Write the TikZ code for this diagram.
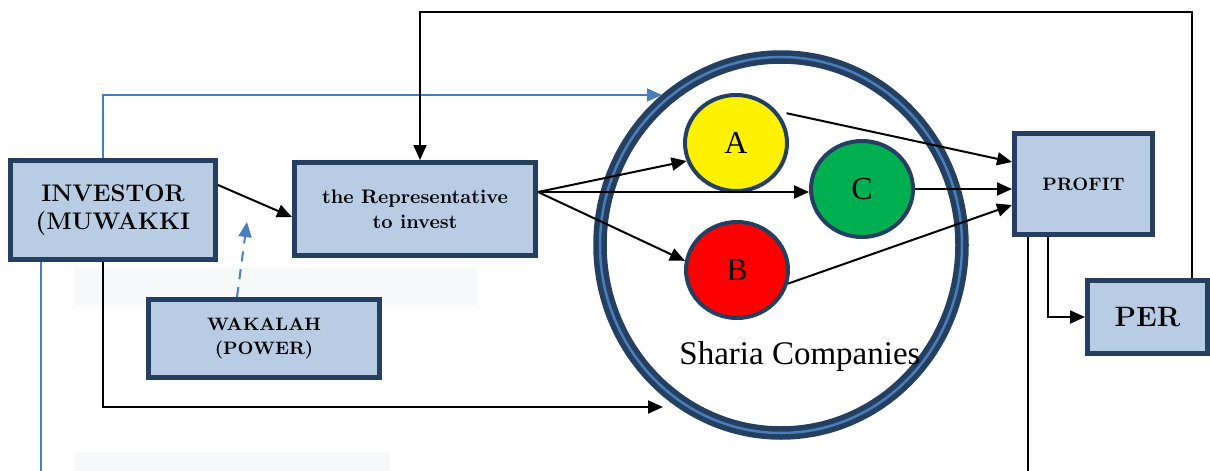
\documentclass[tikz,border=0pt]{standalone}
\usepackage{fontspec}
\newfontfamily\timesfont{Liberation Serif}
\usetikzlibrary{arrows.meta,shapes.geometric}
\definecolor{marine}{HTML}{243F60}
\definecolor{fondboite}{HTML}{B8CCE4}
\definecolor{bleutrait}{HTML}{4A7EBB}
\definecolor{grisclair}{HTML}{F7F8FA}
\definecolor{vert}{HTML}{00B050}
\tikzset{
  boite/.style={draw=marine, line width=2.5pt, fill=fondboite, inner sep=0pt, align=center},
  rond/.style={ellipse, draw=marine, line width=2pt, inner sep=0pt,
    minimum width=51pt, minimum height=48pt, font=\timesfont\fontsize{16}{18}\selectfont},
  fleche/.style={-{Triangle[length=7.5pt,width=6.5pt]}, line width=1pt},
  bleu/.style={draw=bleutrait, line width=1pt}
}
\begin{document}
\begin{tikzpicture}[x=0.5pt,y=-0.5pt]
\useasboundingbox (0,0) rectangle (1210,471);
%					Fonds gris :
\fill[grisclair] (75,268) rectangle (477,305);
\fill[grisclair] (75,453) rectangle (390,471);
%					Les boites :
\node[boite, minimum width=102.5pt, minimum height=49.5pt,
  font=\bfseries\fontsize{12}{14}\selectfont] (investor) at (113,210) {INVESTOR\\(MUWAKKI};
\node[boite, minimum width=120.5pt, minimum height=46.5pt,
  font=\bfseries\fontsize{9.8}{12.5}\selectfont] (rep) at (415,209) {the Representative\\to invest};
\node[boite, minimum width=115.5pt, minimum height=39pt,
  font=\bfseries\fontsize{9}{12}\selectfont] (wakalah) at (264,338.5) {WAKALAH\\(POWER)};
\node[boite, minimum width=69pt, minimum height=50.5pt,
  font=\bfseries\fontsize{9}{11}\selectfont] (profit) at (1083.5,184) {PROFIT};
\node[boite, minimum width=60pt, minimum height=36.5pt,
  font=\bfseries\fontsize{14}{16}\selectfont] (per) at (1147.5,317) {PER};
%					Le grand cercle :
\node[ellipse, draw=marine, line width=2.75pt, double=bleutrait, double distance=1.25pt,
  inner sep=0pt, minimum width=181pt, minimum height=188pt] (societes) at (781,245) {};
\coordinate (societes-haut) at (662,95);
\coordinate (societes-bas) at (663,407);
\coordinate (pouvoir) at (247,222);
%					Liaisons :
\draw[bleu,fleche] ([xshift=-5pt]investor.north) |- (societes-haut);
\draw[fleche] ([xshift=-5pt]investor.south) |- (societes-bas);
\draw[bleu] ([xshift=-36pt]investor.south) -- ++(0,210);
\draw[bleu,fleche,dash pattern=on 5pt off 4pt] ([xshift=-13.5pt]wakalah.north) -- (pouvoir);
\draw[fleche] ([yshift=12.5pt]investor.east) -- ([yshift=-4pt]rep.west);
\draw[fleche] ([xshift=22pt]per.north) -- ([xshift=22pt]per.north |- 0,12) -| ([xshift=2.5pt]rep.north);
%					Les societes :
\node[rond, fill=yellow] (a) at (736,143) {A};
\node[rond, fill=vert] (c) at (862,189) {C};
\node[rond, fill=red] (b) at (737,270) {B};
\node[font=\timesfont\fontsize{16.5}{18}\selectfont] (sharia) at (800,357) {Sharia Companies};
\coordinate (rep-sortie) at ([yshift=8.5pt]rep.east);
\draw[fleche] (rep-sortie) -- (a.200);
\draw[fleche] (rep-sortie) -- (rep-sortie -| c.west);
\draw[fleche] (rep-sortie) -- (b.170);
\draw[fleche] ([xshift=4pt]a.35) -- ([yshift=11pt]profit.west);
\draw[fleche] (c.east) -- (c.east -| profit.west);
\draw[fleche] (b.345) -- ([yshift=-10.5pt]profit.west);
\draw[fleche] ([xshift=-18pt]profit.south) |- (per.west);
\draw[line width=1pt] ([xshift=-28pt]profit.south) -- ++(0,240);
\end{tikzpicture}
\end{document}
